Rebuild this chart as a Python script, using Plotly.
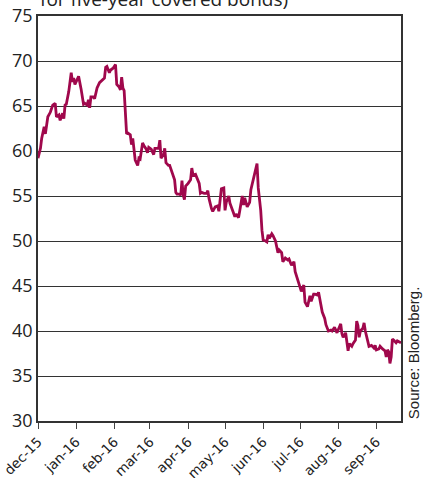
import plotly.graph_objects as go

dates = [
 "2015-12-01","2015-12-03","2015-12-04","2015-12-06","2015-12-07","2015-12-08","2015-12-09","2015-12-11","2015-12-13","2015-12-15",
 "2015-12-16","2015-12-18","2015-12-19","2015-12-21","2015-12-22","2015-12-23","2015-12-24","2015-12-26","2015-12-27","2015-12-28",
 "2015-12-29","2015-12-30","2015-12-31",
 "2016-01-02","2016-01-03","2016-01-05","2016-01-07","2016-01-08","2016-01-10","2016-01-11","2016-01-12","2016-01-13","2016-01-15",
 "2016-01-16","2016-01-18","2016-01-20","2016-01-22","2016-01-24","2016-01-25","2016-01-26","2016-01-28","2016-01-29","2016-01-31",
 "2016-02-02","2016-02-03","2016-02-05","2016-02-06","2016-02-07","2016-02-08","2016-02-09","2016-02-11","2016-02-12","2016-02-14",
 "2016-02-15","2016-02-16","2016-02-17","2016-02-18","2016-02-20","2016-02-21","2016-02-22","2016-02-24","2016-02-25","2016-02-27",
 "2016-02-28","2016-02-29",
 "2016-03-02","2016-03-04","2016-03-05","2016-03-07","2016-03-08","2016-03-09","2016-03-10","2016-03-12","2016-03-13","2016-03-14",
 "2016-03-16","2016-03-17","2016-03-19","2016-03-21","2016-03-22","2016-03-23","2016-03-25","2016-03-26","2016-03-27","2016-03-28",
 "2016-03-29","2016-03-30",
 "2016-04-01","2016-04-03","2016-04-04","2016-04-05","2016-04-07","2016-04-08","2016-04-10","2016-04-11","2016-04-12","2016-04-14",
 "2016-04-16","2016-04-17","2016-04-18","2016-04-20","2016-04-21","2016-04-23","2016-04-25","2016-04-26","2016-04-27","2016-04-28",
 "2016-04-30",
 "2016-05-01","2016-05-02","2016-05-04","2016-05-05","2016-05-07","2016-05-09","2016-05-10","2016-05-12","2016-05-13","2016-05-15",
 "2016-05-16","2016-05-17","2016-05-19","2016-05-21","2016-05-22","2016-05-24","2016-05-26","2016-05-27","2016-05-28","2016-05-30",
 "2016-05-31",
 "2016-06-01","2016-06-03","2016-06-04","2016-06-05","2016-06-06","2016-06-08","2016-06-09","2016-06-11","2016-06-13","2016-06-14",
 "2016-06-16","2016-06-17","2016-06-19","2016-06-21","2016-06-22","2016-06-24","2016-06-26","2016-06-27","2016-06-29","2016-06-30",
 "2016-07-02","2016-07-04","2016-07-05","2016-07-07","2016-07-09","2016-07-10","2016-07-12","2016-07-13","2016-07-15","2016-07-16",
 "2016-07-18","2016-07-19","2016-07-21","2016-07-22","2016-07-24","2016-07-26","2016-07-27","2016-07-29","2016-07-31",
 "2016-08-01","2016-08-03","2016-08-04","2016-08-05","2016-08-07","2016-08-08","2016-08-09","2016-08-10","2016-08-12","2016-08-13",
 "2016-08-15","2016-08-16","2016-08-17","2016-08-18","2016-08-19","2016-08-21","2016-08-22","2016-08-23","2016-08-25","2016-08-26",
 "2016-08-28","2016-08-30","2016-08-31",
 "2016-09-01","2016-09-03","2016-09-04","2016-09-06","2016-09-08","2016-09-09","2016-09-10","2016-09-11","2016-09-12","2016-09-13",
 "2016-09-14","2016-09-15","2016-09-17","2016-09-18","2016-09-20","2016-09-21",
]

spread = [
 59.2,60.3,61.4,62.7,61.9,62.9,63.8,64.3,65.1,65.3,
 63.8,64.0,63.4,64.2,63.6,65.1,65.2,66.6,67.7,68.7,
 67.7,68.1,67.4,
 67.9,68.3,66.9,65.2,65.3,65.1,65.7,64.8,66.0,66.0,
 65.8,67.0,67.6,67.9,68.1,69.3,69.4,68.7,69.0,69.2,
 69.6,67.4,67.1,66.8,68.2,67.0,66.7,61.9,62.0,61.8,
 60.7,61.4,60.0,59.0,58.4,59.2,59.1,60.9,60.6,60.2,
 59.8,60.4,
 60.2,59.6,60.3,60.3,60.3,61.2,59.2,59.6,60.3,58.7,
 58.4,58.4,57.7,56.8,55.4,55.2,55.2,55.1,56.7,55.1,
 54.6,56.1,
 56.4,56.8,58.1,57.3,57.4,57.0,56.4,55.3,55.4,55.3,
 55.3,55.6,54.7,53.6,53.3,53.8,53.9,53.3,54.9,55.8,
 55.9,
 53.4,54.3,55.0,54.2,53.4,52.7,53.0,52.6,53.4,55.0,
 54.0,54.8,53.8,54.3,55.7,57.0,57.9,58.6,55.9,53.4,
 51.2,
 50.1,50.0,49.9,50.7,50.3,50.8,50.6,50.0,48.7,49.0,
 48.7,47.7,48.1,47.9,48.0,47.3,47.7,46.6,45.7,45.1,
 44.4,45.1,43.2,42.7,43.9,43.3,44.1,44.1,44.0,44.3,
 42.8,42.1,41.4,40.7,40.0,40.1,40.0,40.4,39.8,
 40.1,40.8,39.7,39.3,39.8,38.6,37.8,38.6,38.3,38.6,
 39.0,41.1,40.6,39.3,40.0,40.3,40.9,40.0,38.9,38.3,
 38.4,38.1,38.4,
 37.9,38.0,38.3,38.0,37.8,37.1,37.9,37.7,36.4,37.1,
 39.1,39.0,38.7,38.9,38.7,38.7,
]

tick_dates = ["2015-12-01","2016-01-01","2016-02-01","2016-03-01","2016-04-01",
              "2016-05-01","2016-06-01","2016-07-01","2016-08-01","2016-09-01"]
tick_labels = ["dec-15","jan-16","feb-16","mar-16","apr-16",
               "may-16","jun-16","jul-16","aug-16","sep-16"]
y_ticks = [30, 35, 40, 45, 50, 55, 60, 65, 70, 75]

fig = go.Figure()
fig.add_trace(go.Scatter(x=dates, y=spread, mode="lines",
                         line=dict(color="#a0084c", width=2.8), hoverinfo="skip"))

fig.update_layout(
    width=424, height=478,
    margin=dict(l=38, r=23, t=16, b=57),
    paper_bgcolor="white", plot_bgcolor="white",
    showlegend=False,
    xaxis=dict(
        range=["2015-12-01", "2016-09-21"], automargin=False,
        tickmode="array", tickvals=tick_dates, ticktext=tick_labels,
        tickangle=-45, ticks="outside", ticklen=6, tickcolor="#444",
        ticklabeloverflow="allow",
        showgrid=False, showline=True, linecolor="#333", linewidth=1.5,
        mirror=True, zeroline=False,
        tickfont=dict(family="DejaVu Sans", size=13.5, color="#222"),
    ),
    yaxis=dict(
        range=[30, 75], tickmode="array", tickvals=y_ticks, automargin=False,
        showgrid=True, gridcolor="#333", gridwidth=1,
        showline=True, linecolor="#333", linewidth=1.8, mirror=True,
        ticks="", zeroline=False,
        tickfont=dict(family="Open Sans", size=18, color="#222"),
    ),
    annotations=[
        dict(text="for five-year covered bonds)", xref="paper", yref="paper",
             x=0.0, y=1.042, xanchor="left", yanchor="middle", showarrow=False,
             font=dict(family="Open Sans", size=19, color="#222")),
        dict(text="Source: Bloomberg.", xref="paper", yref="paper",
             x=1.035, y=0, xanchor="center", yanchor="bottom", textangle=-90,
             showarrow=False,
             font=dict(family="Liberation Sans", size=15, color="#222")),
    ],
)

fig.write_html("out.html", config={"displayModeBar": False},
               post_script="document.body.style.margin='0';")
